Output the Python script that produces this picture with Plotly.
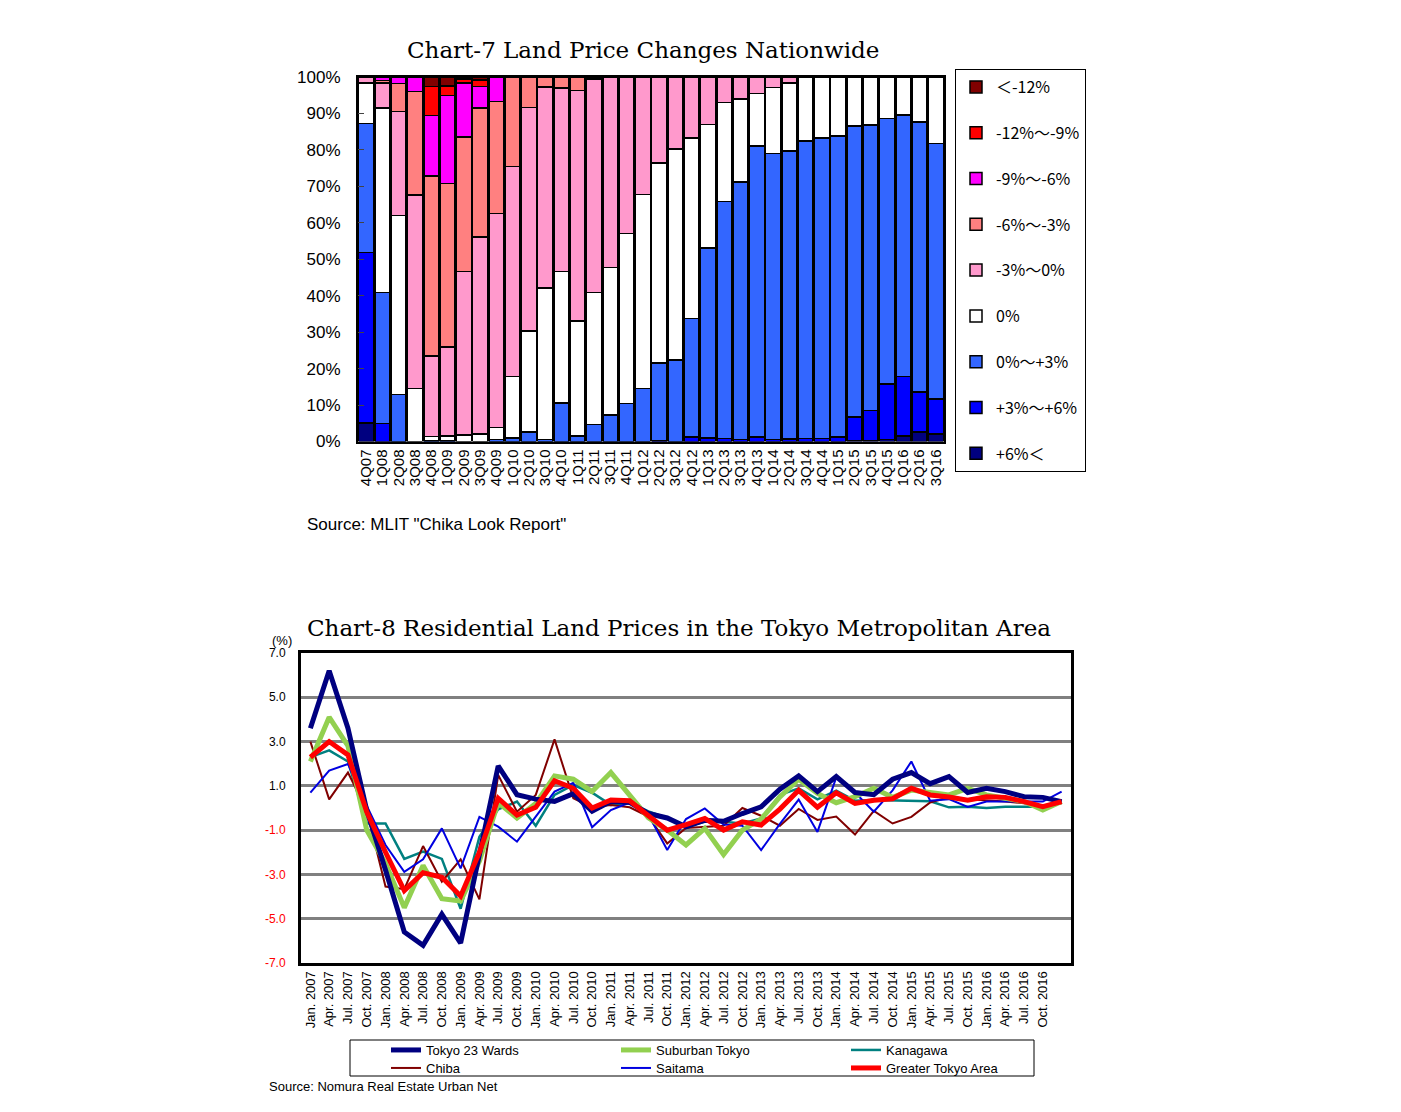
import plotly.graph_objects as go

# page -> paper coords (body margin of 8px)
W, H, OFF = 1385, 1096, 8
def px(x):
    return (x - OFF) / W
def py(y):
    return 1 - (y - OFF) / H

##### chart 7 data
quarters = ["4Q07", "1Q08", "2Q08", "3Q08", "4Q08", "1Q09", "2Q09", "3Q09", "4Q09",
            "1Q10", "2Q10", "3Q10", "4Q10", "1Q11", "2Q11", "3Q11", "4Q11",
            "1Q12", "2Q12", "3Q12", "4Q12", "1Q13", "2Q13", "3Q13", "4Q13",
            "1Q14", "2Q14", "3Q14", "4Q14", "1Q15", "2Q15", "3Q15", "4Q15",
            "1Q16", "2Q16", "3Q16"]

up6 = [5.1, 0, 0, 0, 0, 0, 0, 0, 0, 0, 0, 0, 0, 0, 0, 0, 0, 0, 0, 0, 0, 0, 0, 0, 0,
       0, 0, 0, 0, 0, 0.3, 0.3, 0.5, 1.5, 2.6, 2.0]
up3_6 = [46.8, 5.0, 0, 0, 0, 0, 0, 0, 0, 0, 0, 0, 0, 0, 0, 0, 0, 0, 0.3, 0, 1.3, 0.9, 0.8, 0.6, 1.2,
         0.5, 0.7, 0.8, 0.8, 1.3, 6.4, 8.2, 15.3, 16.4, 11.0, 9.7]
up0_3 = [35.4, 35.9, 12.9, 0, 0.3, 0.3, 0, 0, 0.5, 1.0, 2.6, 0.5, 10.6, 1.5, 4.6, 7.3, 10.4,
         14.5, 21.2, 22.4, 32.4, 52.2, 65.1, 70.6, 79.9, 78.5, 79.0, 81.6, 82.5, 82.5,
         79.8, 78.3, 72.8, 71.7, 74.1, 70.1]
zero = [11.0, 50.6, 49.1, 14.5, 1.1, 1.2, 1.8, 2.0, 3.4, 16.9, 27.7, 41.6, 36.1, 31.6, 36.3,
        40.5, 46.6, 53.2, 54.9, 57.9, 49.5, 33.9, 27.1, 22.8, 14.4, 18.1, 18.6, 17.6, 16.7,
        16.2, 13.5, 13.2, 11.4, 10.4, 12.3, 18.2]
dn0_3 = [1.7, 6.8, 28.5, 53.1, 22.0, 24.4, 44.9, 54.1, 58.6, 57.5, 61.3, 55.1, 50.3, 63.2,
         58.6, 52.2, 43.0, 32.3, 23.6, 19.7, 16.8, 13.0, 7.0, 6.0, 4.5, 2.9, 1.7, 0, 0, 0,
         0, 0, 0, 0, 0, 0]
dn3_6 = [0, 0.7, 7.7, 28.4, 49.4, 44.9, 36.8, 35.4, 30.8, 24.6, 8.4, 2.8, 3.0, 3.7, 0.5, 0,
         0, 0, 0, 0, 0, 0, 0, 0, 0, 0, 0, 0, 0, 0, 0, 0, 0, 0, 0, 0]
dn6_9 = [0, 1.0, 1.8, 4.0, 16.6, 24.1, 14.8, 5.9, 6.7, 0, 0, 0, 0, 0, 0, 0, 0, 0, 0, 0, 0,
         0, 0, 0, 0, 0, 0, 0, 0, 0, 0, 0, 0, 0, 0, 0]
dn9_12 = [0, 0, 0, 0, 8.0, 2.6, 1.2, 1.8, 0, 0, 0, 0, 0, 0, 0, 0, 0, 0, 0, 0, 0, 0, 0, 0,
          0, 0, 0, 0, 0, 0, 0, 0, 0, 0, 0, 0]
dn12 = [0, 0, 0, 0, 2.6, 2.5, 0.5, 0.8, 0, 0, 0, 0, 0, 0, 0, 0, 0, 0, 0, 0, 0, 0, 0, 0, 0,
        0, 0, 0, 0, 0, 0, 0, 0, 0, 0, 0]

bands = [
    ("+6%＜", up6, "#000080"),
    ("+3%～+6%", up3_6, "#0000FF"),
    ("0%～+3%", up0_3, "#3366FF"),
    ("0%", zero, "#FFFFFF"),
    ("-3%～0%", dn0_3, "#FF99CC"),
    ("-6%～-3%", dn3_6, "#FF8080"),
    ("-9%～-6%", dn6_9, "#FF00FF"),
    ("-12%～-9%", dn9_12, "#FF0000"),
    ("＜-12%", dn12, "#800000"),
]

##### chart 8 data
months = ["Jan. 2007", "Apr. 2007", "Jul. 2007", "Oct. 2007", "Jan. 2008", "Apr. 2008",
          "Jul. 2008", "Oct. 2008", "Jan. 2009", "Apr. 2009", "Jul. 2009", "Oct. 2009",
          "Jan. 2010", "Apr. 2010", "Jul. 2010", "Oct. 2010", "Jan. 2011", "Apr. 2011",
          "Jul. 2011", "Oct. 2011", "Jan. 2012", "Apr. 2012", "Jul. 2012", "Oct. 2012",
          "Jan. 2013", "Apr. 2013", "Jul. 2013", "Oct. 2013", "Jan. 2014", "Apr. 2014",
          "Jul. 2014", "Oct. 2014", "Jan. 2015", "Apr. 2015", "Jul. 2015", "Oct. 2015",
          "Jan. 2016", "Apr. 2016", "Jul. 2016", "Oct. 2016", "Jan. 2017"]

tokyo23 = [3.6, 6.2, 3.6, -0.1, -2.8, -5.6, -6.2, -4.8, -6.1, -2.0, 1.9, 0.6, 0.4, 0.3,
           0.65, -0.15, 0.3, 0.25, -0.25, -0.45, -0.85, -0.55, -0.6, -0.25, 0.05, 0.85,
           1.45, 0.74, 1.42, 0.7, 0.6, 1.3, 1.6, 1.1, 1.42, 0.7, 0.89, 0.74, 0.51, 0.48, 0.29]
suburban = [2.1, 4.1, 2.8, -1.0, -2.5, -4.5, -2.6, -4.1, -4.2, -2.4, 0.25, -0.45, 0.2, 1.45,
            1.3, 0.74, 1.6, 0.55, -0.45, -1.0, -1.67, -0.92, -2.1, -1.0, -0.5, 0.5, 1.3,
            0.66, 0.24, 0.51, 0.89, 0.48, 0.81, 0.7, 0.59, 0.89, 0.59, 0.44, 0.29, -0.09, 0.29]
kanagawa = [2.3, 2.6, 2.1, -0.7, -0.7, -2.3, -1.97, -2.3, -4.55, -1.3, -0.06, 0.29, -0.8,
            0.59, 1.04, 0.69, 0.14, 0.25, -0.15, -0.45, -0.84, -0.62, -0.62, -0.7, -0.47,
            0.59, 0.89, 0.39, 0.78, 0.33, 0.36, 0.33, 0.33, 0.3, 0.03, 0.06, 0.0, 0.06, 0.06,
            0.06, 0.29]
chiba = [3.0, 0.39, 1.6, -0.1, -3.55, -3.67, -1.72, -3.33, -2.32, -4.13, 1.49, -0.17, 0.59,
         3.1, 0.44, 0.03, 0.14, 0.03, -0.39, -1.6, -0.9, -0.85, -0.8, 0.0, -0.35, -0.8, -0.04,
         -0.54, -0.39, -1.2, -0.13, -0.7, -0.4, 0.25, 0.48, 0.4, 0.36, 0.29, 0.21, 0.06, 0.21]
saitama = [0.69, 1.69, 1.99, 0.1, -1.67, -2.88, -2.32, -0.92, -2.73, -0.4, -0.84, -1.52,
           -0.39, 0.74, 1.14, -0.87, -0.09, 0.25, -0.3, -1.9, -0.5, -0.02, -0.75, -0.8, -1.9,
           -0.72, 0.38, -1.08, 1.38, 0.7, -0.17, 0.8, 2.1, 0.33, 0.4, 0.05, 0.29, 0.29, 0.29,
           0.29, 0.74]
greater = [2.29, 3.0, 2.4, -0.17, -2.0, -3.73, -2.92, -3.13, -3.98, -2.0, 0.44, -0.32, 0.03,
           1.23, 0.89, 0.0, 0.36, 0.33, -0.35, -1.0, -0.75, -0.47, -1.0, -0.62, -0.77, -0.05,
           0.8, 0.03, 0.69, 0.21, 0.35, 0.42, 0.89, 0.59, 0.5, 0.35, 0.51, 0.48, 0.29, 0.06, 0.29]

series = [
    ("Tokyo 23 Wards", tokyo23, "#000080", 5, "legend2"),
    ("Suburban Tokyo", suburban, "#92D050", 5, "legend2"),
    ("Kanagawa", kanagawa, "#008080", 2.5, "legend2"),
    ("Chiba", chiba, "#800000", 2, "legend3"),
    ("Saitama", saitama, "#0000E0", 2, "legend3"),
    ("Greater Tokyo Area", greater, "#FF0000", 5, "legend3"),
]
y_ticks = [-7, -5, -3, -1, 1, 3, 5, 7]

fig = go.Figure()

# stacked from the bottom band up; legend lists the top band first
for i, (name, vals, col) in enumerate(bands):
    fig.add_trace(go.Bar(
        x=quarters, y=vals, name=name, legendgroup="g%d" % i,
        legendrank=100 - i,
        marker=dict(color=col, line=dict(color="black", width=1.5)),
        xaxis="x", yaxis="y", legend="legend",
    ))

# plot the fine lines first, thick ones later like the original
order = [2, 3, 4, 1, 0, 5]
for k in order:
    name, vals, col, lw, lg = series[k]
    fig.add_trace(go.Scatter(
        x=months, y=vals, name=name, mode="lines",
        line=dict(color=col, width=lw),
        xaxis="x2", yaxis="y2", legend=lg, legendrank=k,
    ))

neg = lambda v: '<span style="color:#FF0000">%.1f</span>' % v if v < 0 else "%.1f" % v

fig.update_layout(
    width=W, height=H,
    margin=dict(l=0, r=0, t=0, b=0, autoexpand=False),
    paper_bgcolor="white", plot_bgcolor="white",
    barmode="stack", bargap=0.08,
    showlegend=True,
    font=dict(family="Liberation Sans", color="black"),
    xaxis=dict(domain=[px(358), px(944)], anchor="y", type="category",
               tickvals=quarters, tickangle=-90, tickfont=dict(size=15),
               showline=True, mirror=True, automargin=False,
               linecolor="black", linewidth=2, ticks=""),
    yaxis=dict(domain=[py(441.5), py(77)], anchor="x", range=[0, 100], dtick=10,
               ticksuffix="%", tickfont=dict(size=17), showgrid=False,
               showline=True, mirror=True, linecolor="black", linewidth=2,
               automargin=False, ticks="inside", ticklen=6, ticklabelstandoff=12),
    xaxis2=dict(domain=[px(301), px(1071)], anchor="y2", type="category",
                range=[-0.5, 40.5], tickvals=months[:40], tickangle=-90,
                tickfont=dict(size=13), showline=True, mirror=True, automargin=False,
                linecolor="black", linewidth=3, ticks="", showgrid=False),
    yaxis2=dict(domain=[py(963), py(653)], anchor="x2", range=[-7, 7],
                tickvals=y_ticks, ticktext=[neg(v) for v in y_ticks],
                tickfont=dict(size=12), showgrid=True, gridcolor="#808080",
                gridwidth=3, zeroline=False, showline=True, mirror=True,
                automargin=False, linecolor="black", linewidth=3, ticklabelstandoff=10),
    xaxis3=dict(overlaying="x2", anchor="free",
                position=(py(963) + py(653)) / 2, range=[-0.5, 40.5],
                tick0=0.5, dtick=1, ticks="inside", ticklen=6, tickcolor="black",
                showline=True, linecolor="black", linewidth=1.5, automargin=False,
                showticklabels=False, showgrid=False, zeroline=False),
    legend=dict(x=px(955), y=py(69), xanchor="left", yanchor="top",
                bordercolor="black", borderwidth=1, bgcolor="white",
                traceorder="grouped", tracegroupgap=22,
                font=dict(family="Noto Sans CJK JP", size=16)),
    legend2=dict(orientation="h", x=px(386), y=py(1035), xanchor="left", yanchor="top",
                 entrywidth=185, font=dict(size=13), traceorder="normal",
                 bgcolor="rgba(0,0,0,0)"),
    legend3=dict(orientation="h", x=px(386), y=py(1053), xanchor="left", yanchor="top",
                 entrywidth=185, font=dict(size=13), traceorder="normal",
                 bgcolor="rgba(0,0,0,0)"),
)

# legend box of chart 8
fig.add_shape(type="rect", xref="paper", yref="paper",
              x0=px(350), x1=px(1034), y0=py(1076), y1=py(1040),
              line=dict(color="black", width=1))

fig.add_annotation(text="Chart-7 Land Price Changes Nationwide", x=px(643), y=py(50),
                   xref="paper", yref="paper", showarrow=False, yanchor="middle",
                   font=dict(family="DejaVu Serif", size=23))
fig.add_annotation(text="Chart-8 Residential Land Prices in the Tokyo Metropolitan Area",
                   x=px(679), y=py(628), xref="paper", yref="paper", showarrow=False,
                   yanchor="middle", font=dict(family="DejaVu Serif", size=23))
fig.add_annotation(text='Source: MLIT "Chika Look Report"', x=px(305), y=py(524),
                   xref="paper", yref="paper", showarrow=False, xanchor="left",
                   yanchor="middle", font=dict(size=17))
fig.add_annotation(text="Source: Nomura Real Estate Urban Net", x=px(267), y=py(1086),
                   xref="paper", yref="paper", showarrow=False, xanchor="left",
                   yanchor="middle", font=dict(size=13))
fig.add_annotation(text="(%)", x=px(270), y=py(640), xref="paper", yref="paper",
                   showarrow=False, yanchor="middle", font=dict(size=13))

fig.write_html("out.html")
